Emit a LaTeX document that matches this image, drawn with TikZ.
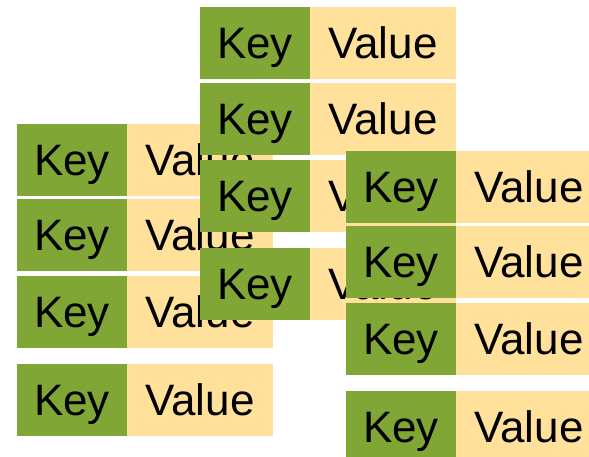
\documentclass[tikz,border=0pt]{standalone}
\usepackage{fontspec}
\setmainfont{Liberation Sans}
\usetikzlibrary{positioning}
\definecolor{keygreen}{HTML}{80A636}
\definecolor{valpeach}{HTML}{FFE19C}
\tikzset{
  cell/.style={inner sep=0pt, outer sep=0pt, minimum height=72pt, text height=31.5pt, text depth=0pt, font=\fontsize{44}{48}\selectfont},
  keycell/.style={cell, fill=keygreen, minimum width=110pt},
  valcell/.style={cell, fill=valpeach, minimum width=146pt},
}

\begin{document}
\begin{tikzpicture}[x=1pt,y=-1pt]

    \clip (0,0) rectangle (589,457);

    % three stacks of key/value rows, later ones on top
    \foreach \s/\x/\ya/\yb/\yc/\yd in {l/17/124/199/276/364, m/200/7/83/160/248, r/346/151/226/303/391}{
        \foreach \r/\y in {1/\ya, 2/\yb, 3/\yc, 4/\yd}{
            \node[keycell, anchor=north west] (k-\s\r) at (\x,\y) {Key};
            \node[valcell, right=0pt of k-\s\r] (v-\s\r) {Value};
        }
    }

\end{tikzpicture}
\end{document}
